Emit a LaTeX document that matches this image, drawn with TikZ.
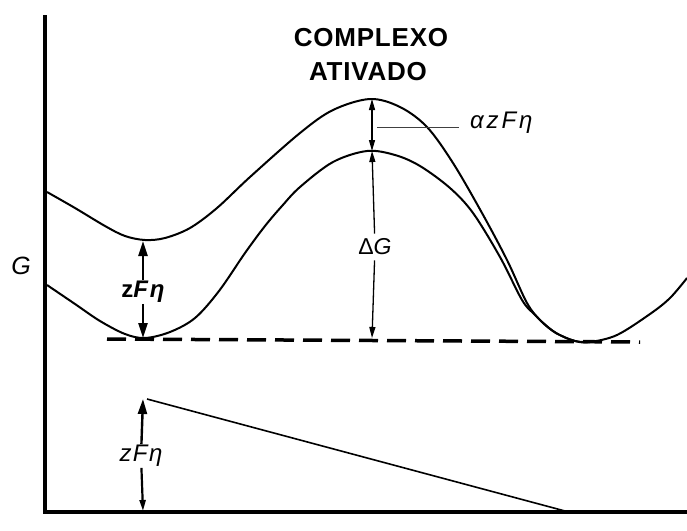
\documentclass[tikz,border=0pt]{standalone}
\usepackage{fontspec}
\setmainfont{Liberation Sans}
\newfontfamily\titlefont{Liberation Sans}[LetterSpace=3]
\newfontfamily\spacedfont{Liberation Sans}[LetterSpace=6]
\newfontfamily\widefont{Liberation Sans}[LetterSpace=12]
\usetikzlibrary{arrows.meta}
\begin{document}
\begin{tikzpicture}[x=1pt,y=-1pt,
  curve/.style={line width=2pt, line join=round},
  axis/.style={line width=3.5pt},
  dashline/.style={line width=3.5pt, dash pattern=on 19pt off 9pt},
  bigarrow/.style={line width=2.4pt, -{Triangle[length=15pt,width=9pt]}},
  smallarrow/.style={line width=1.3pt, -{Triangle[length=11pt,width=6pt]}},
  lbl/.style={inner sep=1pt},
  titlelbl/.style={inner sep=0pt, font=\titlefont\bfseries\fontsize{26}{30}\selectfont}
]
\useasboundingbox (0,0) rectangle (687,530);

% axes
\coordinate (ytop) at (45,15);
\coordinate (O) at (45,512);
\coordinate (xend) at (687,512);
\draw[axis] (ytop) -- (O) -- (xend);

% upper curve
\draw[curve] plot[smooth, tension=0.55] coordinates {
 (47,192) (75,208) (105,226) (125,236) (145,240) (165,238) (190,228) (217,208)
 (250,177) (300,133) (333,110) (370,99) (400,107) (427,127) (453,163) (482,213)
 (507,260) (527,303) (541,321) (556,333) (575,341) (590,342) (617,335) (650,314)
 (670,298) (687,278)};

% lower curve
\draw[curve] plot[smooth, tension=0.55] coordinates {
 (47,285) (75,304) (100,321) (125,334) (145,338) (170,332) (195,318) (219,291)
 (245,253) (265,226) (282,206) (300,187) (333,162) (367,151) (395,155) (420,166)
 (450,188) (473,213) (500,257) (522,300) (534,314) (541,321) (556,333) (575,341)
 (590,342)};

% dashed base line
\coordinate (dl) at (107,339);
\coordinate (dr) at (640,342);
\draw[dashline] (dl) -- (dr);

% title
\node[titlelbl] (t1) at (371,38) {COMPLEXO};
\node[titlelbl] (t2) at (368,72) {ATIVADO};

% G axis label
\node[lbl, font=\itshape\fontsize{25}{28}\selectfont] (G) at (21,266) {G};

% left zF eta arrows
\coordinate (umin) at (143,241);
\coordinate (lmin) at (143,338);
\node[lbl, font=\spacedfont\bfseries\fontsize{24}{28}\selectfont] (zf1) at (143,292) {z\itshape F\/η};
\draw[bigarrow] (zf1) -- (umin);
\draw[bigarrow] (zf1) -- (lmin);

% centre arrows
\coordinate (utop) at (372,99);
\coordinate (lmax) at (372,151);
\coordinate (cbase) at (372,338);
\draw[smallarrow, {Triangle[length=11pt,width=6pt]}-{Triangle[length=11pt,width=6pt]}] (utop) -- (lmax);
\node[lbl, font=\fontsize{23}{26}\selectfont, inner sep=5pt] (dG) at (375,247) {Δ\textit{G}};
\draw[smallarrow] (dG) -- (lmax);
\draw[smallarrow] (dG) -- (cbase);

% alpha z F eta with leader
\node[lbl, font=\widefont\itshape\fontsize{24}{28}\selectfont, anchor=west] (azf) at (469,123) {αzFη};
\coordinate (lead) at (377,127);
\draw[line width=1pt, black!75] (lead) -- ([xshift=-10pt]lead -| azf.west);

% bottom potential line
\coordinate (rtop) at (147,399);
\coordinate (rend) at (565,511);
\draw[line width=1.6pt] (rtop) -- (rend);

% bottom zF eta arrows
\coordinate (btop) at (143,399);
\coordinate (bbot) at (143,511);
\node[lbl, font=\spacedfont\itshape\fontsize{24}{28}\selectfont] (zf2) at (141,456) {zFη};
\draw[bigarrow] (zf2) -- (btop);
\draw[line width=2.2pt, -{Triangle[length=11pt,width=6pt]}] (zf2) -- (bbot);
\end{tikzpicture}
\end{document}
